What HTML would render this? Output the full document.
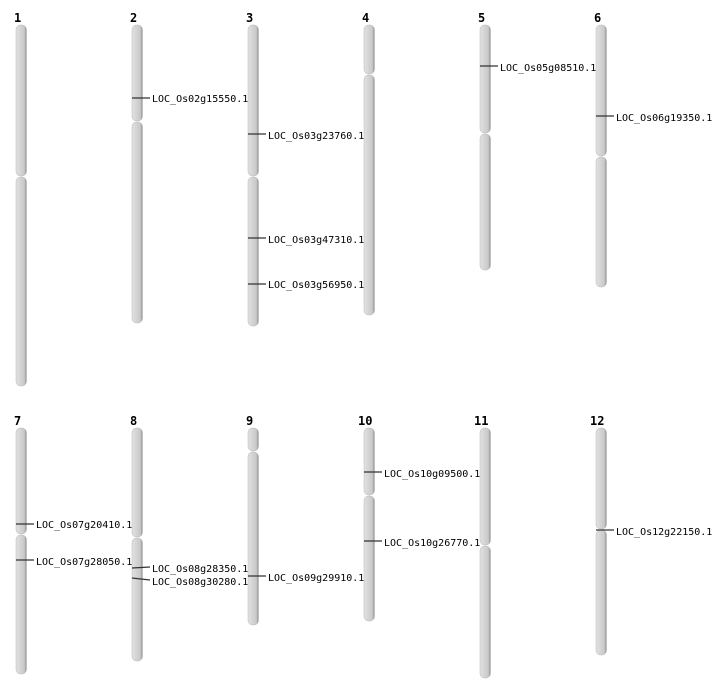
<!DOCTYPE html>
<html><head><meta charset="utf-8"><style>
body{margin:0;background:#fff}
svg{display:block}
.n{font:bold 12px "DejaVu Sans Mono","Liberation Mono",monospace;fill:#000}
.t{font:10px "DejaVu Sans Mono","Liberation Mono",monospace;fill:#000}
.m{stroke:#333;stroke-width:1.2}
</style></head><body>
<svg width="712" height="700" viewBox="0 0 712 700">
<defs>
<linearGradient id="g" x1="0" x2="1" y1="0" y2="0">
<stop offset="0" stop-color="#e2e2e2"/><stop offset="0.5" stop-color="#d2d2d2"/><stop offset="0.8" stop-color="#c8c8c8"/><stop offset="1" stop-color="#8a8a8a"/>
</linearGradient>
<g id="x"></g>
</defs>
<g fill="url(#g)" stroke="#b8b8b8" stroke-width="0.5">
<!-- row1 -->
<rect x="16" y="25" width="10.5" height="151" rx="4.5"/><rect x="16" y="177" width="10.5" height="209" rx="4.5"/>
<rect x="132" y="25" width="10.5" height="96" rx="4.5"/><rect x="132" y="122" width="10.5" height="201" rx="4.5"/>
<rect x="248" y="25" width="10.5" height="151" rx="4.5"/><rect x="248" y="177" width="10.5" height="149" rx="4.5"/>
<rect x="364" y="25" width="10.5" height="49" rx="4.5"/><rect x="364" y="75" width="10.5" height="240" rx="4.5"/>
<rect x="480" y="25" width="10.5" height="108" rx="4.5"/><rect x="480" y="134" width="10.5" height="136" rx="4.5"/>
<rect x="596" y="25" width="10.5" height="131" rx="4.5"/><rect x="596" y="157" width="10.5" height="130" rx="4.5"/>
<!-- row2 -->
<rect x="16" y="428" width="10.5" height="106" rx="4.5"/><rect x="16" y="535" width="10.5" height="139" rx="4.5"/>
<rect x="132" y="428" width="10.5" height="109" rx="4.5"/><rect x="132" y="538" width="10.5" height="123" rx="4.5"/>
<rect x="248" y="428" width="10.5" height="23" rx="4.5"/><rect x="248" y="452" width="10.5" height="173" rx="4.5"/>
<rect x="364" y="428" width="10.5" height="67" rx="4.5"/><rect x="364" y="496" width="10.5" height="125" rx="4.5"/>
<rect x="480" y="428" width="10.5" height="117" rx="4.5"/><rect x="480" y="546" width="10.5" height="132" rx="4.5"/>
<rect x="596" y="428" width="10.5" height="101" rx="4.5"/><rect x="596" y="530" width="10.5" height="125" rx="4.5"/>
</g>
<g class="n">
<text x="14" y="22">1</text><text x="130" y="22">2</text><text x="246" y="22">3</text><text x="362" y="22">4</text><text x="478" y="22">5</text><text x="594" y="22">6</text>
<text x="14" y="425">7</text><text x="130" y="425">8</text><text x="246" y="425">9</text><text x="358" y="425">10</text><text x="474" y="425">11</text><text x="590" y="425">12</text>
</g>
<g class="m">
<line x1="132" y1="98" x2="150" y2="98"/>
<line x1="248" y1="134" x2="266" y2="134"/>
<line x1="248" y1="238" x2="266" y2="238"/>
<line x1="248" y1="284" x2="266" y2="284"/>
<line x1="480" y1="66" x2="498" y2="66"/>
<line x1="596" y1="116" x2="614" y2="116"/>
<line x1="16" y1="524" x2="34" y2="524"/>
<line x1="16" y1="560" x2="34" y2="560"/>
<line x1="132" y1="568" x2="150" y2="567"/>
<line x1="132" y1="578" x2="150" y2="580"/>
<line x1="248" y1="576" x2="266" y2="576"/>
<line x1="364" y1="472" x2="382" y2="472"/>
<line x1="364" y1="541" x2="382" y2="541"/>
<line x1="596" y1="530" x2="614" y2="530"/>
</g>
<g class="t">
<text x="152" y="102">LOC_Os02g15550.1</text>
<text x="268" y="139">LOC_Os03g23760.1</text>
<text x="268" y="243">LOC_Os03g47310.1</text>
<text x="268" y="288">LOC_Os03g56950.1</text>
<text x="500" y="71">LOC_Os05g08510.1</text>
<text x="616" y="121">LOC_Os06g19350.1</text>
<text x="36" y="528">LOC_Os07g20410.1</text>
<text x="36" y="565">LOC_Os07g28050.1</text>
<text x="152" y="572">LOC_Os08g28350.1</text>
<text x="152" y="585">LOC_Os08g30280.1</text>
<text x="268" y="581">LOC_Os09g29910.1</text>
<text x="384" y="477">LOC_Os10g09500.1</text>
<text x="384" y="546">LOC_Os10g26770.1</text>
<text x="616" y="535">LOC_Os12g22150.1</text>
</g>
</svg>
</body></html>
